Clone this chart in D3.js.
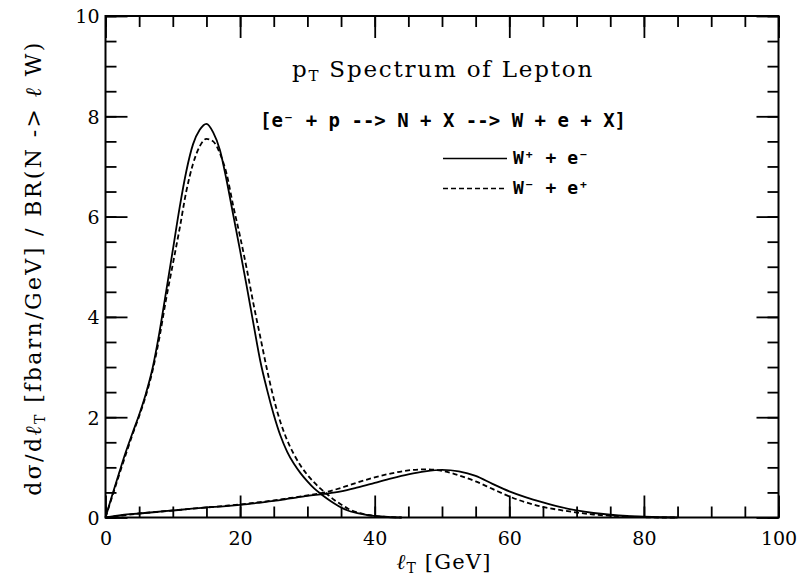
<!DOCTYPE html>
<html>
<head>
<meta charset="utf-8">
<script src="https://cdn.jsdelivr.net/npm/d3@7/dist/d3.min.js"></script>
<style>
  html, body { margin: 0; padding: 0; background: #fff; }
  svg { display: block; }
  .serif { font-family: "DejaVu Serif", "Liberation Serif", serif; fill: #000; }
  .mono { font-family: "DejaVu Sans Mono", "Liberation Mono", monospace; font-weight: bold; fill: #000; }
</style>
</head>
<body>
<svg id="chart" width="802" height="578"></svg>
<script>
// Lepton transverse momentum spectra (fb/GeV per BR(N -> l W))
// Leading peak, x grid in GeV
const lowX = [0,1,2,3,4,5,6,7,8,9,10,11,12,13,14,15,16,17,18,19,20,21,22,23,24,25,26,27,28,29,30,31,32,33,34,35,36,37,38,39,40,42,44];
const lowWplus = [0,0.45,0.88,1.3,1.68,2.05,2.47,2.98,3.68,4.5,5.33,6.17,6.9,7.44,7.73,7.85,7.68,7.33,6.72,6.02,5.32,4.6,3.85,3.12,2.55,2.05,1.63,1.31,1.07,0.88,0.72,0.58,0.47,0.37,0.28,0.2,0.14,0.1,0.07,0.045,0.03,0.01,0];
const lowWminus = [0,0.42,0.84,1.25,1.65,2.02,2.43,2.93,3.58,4.35,5.05,5.75,6.5,7.05,7.4,7.55,7.5,7.26,6.85,6.2,5.6,4.95,4.25,3.6,2.95,2.37,1.9,1.54,1.26,1.03,0.85,0.7,0.57,0.46,0.35,0.26,0.18,0.12,0.08,0.05,0.03,0.01,0];

// Broad second peak
const highX = [0,2.5,5,7.5,10,12.5,15,17.5,20,22.5,25,27.5,30,32.5,35,37.5,40,42.5,45,47.5,50,52.5,55,57.5,60,62.5,65,67.5,70,72.5,75,77.5,80,82.5,85];
const highWplus = [0,0.05,0.08,0.11,0.14,0.17,0.2,0.22,0.25,0.29,0.33,0.38,0.43,0.47,0.52,0.6,0.69,0.78,0.86,0.92,0.95,0.92,0.83,0.67,0.52,0.4,0.3,0.21,0.14,0.09,0.055,0.03,0.015,0.005,0];
const highWminus = [0,0.04,0.08,0.11,0.14,0.17,0.2,0.23,0.26,0.3,0.34,0.39,0.44,0.5,0.59,0.7,0.8,0.88,0.94,0.96,0.93,0.84,0.72,0.57,0.42,0.3,0.21,0.15,0.1,0.06,0.035,0.018,0.006,0,0];

const xMajor = [0,20,40,60,80,100];
const xMinor = d3.range(0, 101, 5);
const yMajor = [0,2,4,6,8,10];
const yMinor = d3.range(0, 10.01, 0.5);

const svg = d3.select("#chart");
const L = 105.5, R = 778.5, T = 16, B = 517.5;
const x = d3.scaleLinear().domain([0, 100]).range([L, R]);
const y = d3.scaleLinear().domain([0, 10]).range([B, T]);

const majorLen = 22, minorLen = 11;

function styleAxis(g) {
  g.select(".domain").remove();
  g.selectAll(".tick line").attr("stroke", "#000").attr("stroke-width", 1.8);
  g.selectAll(".tick text").attr("class", "serif").attr("font-size", 19)
    .attr("font-family", null).attr("fill", "#000");
}

// bottom axis: labelled major ticks plus minor ticks, all pointing inward
svg.append("g").attr("transform", `translate(0,${B})`)
  .call(d3.axisBottom(x).tickValues(xMinor).tickSize(-minorLen).tickFormat(""))
  .call(styleAxis);
svg.append("g").attr("transform", `translate(0,${B})`)
  .call(d3.axisBottom(x).tickValues(xMajor).tickSize(-majorLen).tickPadding(14).tickFormat(d3.format("d")))
  .call(styleAxis);
// top axis mirrors the bottom ticks
svg.append("g").attr("transform", `translate(0,${T})`)
  .call(d3.axisTop(x).tickValues(xMinor).tickSize(-minorLen).tickFormat(""))
  .call(styleAxis);
svg.append("g").attr("transform", `translate(0,${T})`)
  .call(d3.axisTop(x).tickValues(xMajor).tickSize(-majorLen).tickFormat(""))
  .call(styleAxis);
// left axis
svg.append("g").attr("transform", `translate(${L},0)`)
  .call(d3.axisLeft(y).tickValues(yMinor).tickSize(-minorLen).tickFormat(""))
  .call(styleAxis);
const yl = svg.append("g").attr("transform", `translate(${L},0)`)
  .call(d3.axisLeft(y).tickValues(yMajor).tickSize(-majorLen).tickPadding(6).tickFormat(d3.format("d")))
  .call(styleAxis);
yl.selectAll(".tick text").attr("dy", "0.36em");
// right axis
svg.append("g").attr("transform", `translate(${R},0)`)
  .call(d3.axisRight(y).tickValues(yMinor).tickSize(-minorLen).tickFormat(""))
  .call(styleAxis);
svg.append("g").attr("transform", `translate(${R},0)`)
  .call(d3.axisRight(y).tickValues(yMajor).tickSize(-majorLen).tickFormat(""))
  .call(styleAxis);

// frame
svg.append("rect").attr("x", L).attr("y", T).attr("width", R - L).attr("height", B - T)
  .attr("fill", "none").attr("stroke", "#000").attr("stroke-width", 2);

// curves
const line = d3.line().x(d => x(d[0])).y(d => y(d[1])).curve(d3.curveMonotoneX);
const series = [
  { xs: lowX, ys: lowWplus, dash: null },
  { xs: lowX, ys: lowWminus, dash: "5,3" },
  { xs: highX, ys: highWplus, dash: null },
  { xs: highX, ys: highWminus, dash: "5,3" }
];
svg.append("g").selectAll("path").data(series).join("path")
  .attr("d", s => line(s.xs.map((v, i) => [v, s.ys[i]])))
  .attr("fill", "none").attr("stroke", "#000").attr("stroke-width", 1.8)
  .attr("stroke-dasharray", s => s.dash);

// title
const title = svg.append("text").attr("class", "serif").attr("x", 443).attr("y", 77)
  .attr("text-anchor", "middle").attr("font-size", 23).attr("letter-spacing", 1.8);
title.append("tspan").text("p");
title.append("tspan").attr("font-size", 15).attr("dy", 4).text("T");
title.append("tspan").attr("dy", -4).text(" Spectrum of Lepton");

svg.append("text").attr("class", "mono").attr("x", 443).attr("y", 127)
  .attr("text-anchor", "middle").attr("font-size", 19)
  .text("[e\u207B + p --> N + X --> W + e + X]");

// legend
const legend = [
  { label: "W\u207A + e\u207B", dash: null, yy: 158.5 },
  { label: "W\u207B + e\u207A", dash: "5,3", yy: 188.5 }
];
legend.forEach(l => {
  svg.append("line").attr("x1", 443).attr("x2", 507).attr("y1", l.yy).attr("y2", l.yy)
    .attr("stroke", "#000").attr("stroke-width", 1.5).attr("stroke-dasharray", l.dash);
  svg.append("text").attr("class", "mono").attr("x", 513).attr("y", l.yy + 5.5)
    .attr("font-size", 18).text(l.label);
});

// x axis title
const xt = svg.append("text").attr("class", "serif").attr("x", 444).attr("y", 569)
  .attr("text-anchor", "middle").attr("font-size", 21).attr("letter-spacing", 1.2);
xt.append("tspan").attr("font-style", "italic").text("\u2113");
xt.append("tspan").attr("font-size", 14).attr("dy", 4).text("T");
xt.append("tspan").attr("dy", -4).text(" [GeV]");

// y axis title
const ytl = svg.append("text").attr("class", "serif")
  .attr("transform", "translate(41,268) rotate(-90)")
  .attr("text-anchor", "middle").attr("font-size", 22).attr("letter-spacing", 2.4);
ytl.append("tspan").text("d\u03C3/d");
ytl.append("tspan").attr("font-style", "italic").text("\u2113");
ytl.append("tspan").attr("font-size", 14).attr("dy", 4).text("T");
ytl.append("tspan").attr("dy", -4).text(" [fbarn/GeV] / BR(N -> ");
ytl.append("tspan").attr("font-style", "italic").text("\u2113");
ytl.append("tspan").text(" W)");
</script>
</body>
</html>
